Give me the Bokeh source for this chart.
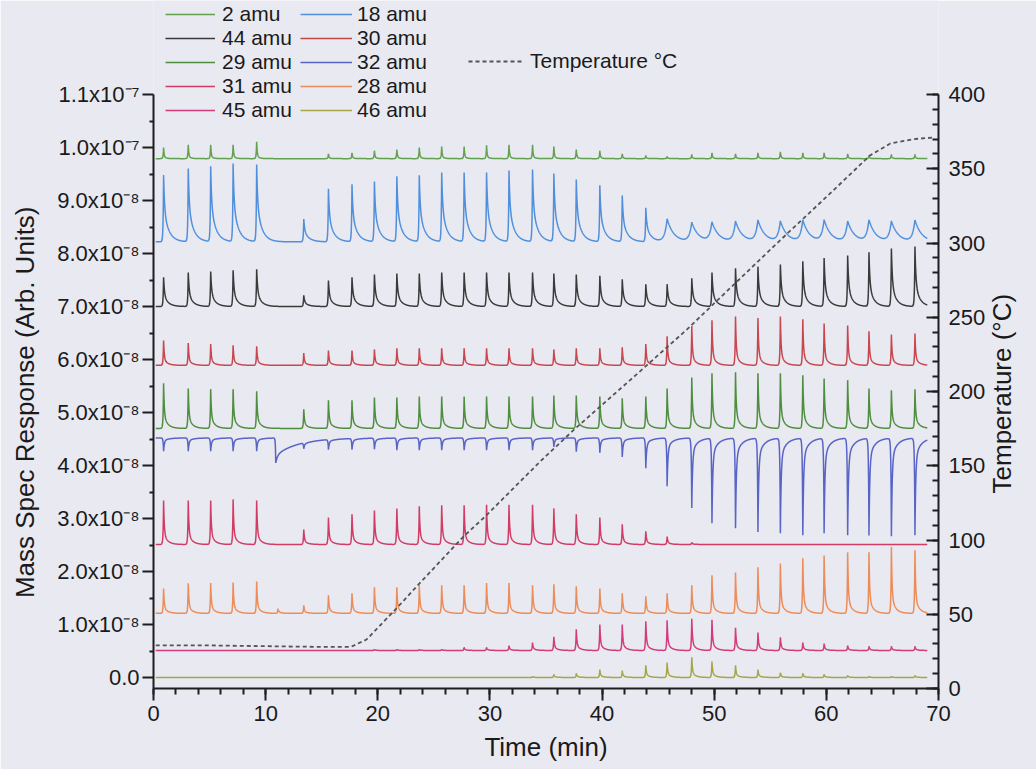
import math
import numpy as np
from bokeh.plotting import figure
from bokeh.models import Range1d, LinearAxis, FixedTicker, Legend, LegendItem
from bokeh.embed import file_html
from bokeh.resources import INLINE

# ---------------- data ----------------
# injection times (min)
INJ_T = [0.9, 3.1, 5.1, 7.1, 9.2, 13.4, 15.6, 17.7, 19.7, 21.7, 23.7, 25.7,
         27.7, 29.7, 31.7, 33.8, 35.7, 37.7, 39.8, 41.8, 43.9, 45.8, 48.0,
         49.8, 51.9, 53.9, 55.9, 57.9, 59.8, 61.9, 63.8, 65.8, 67.9]
T_START, T_END = 0.2, 69.0

# baselines and peak heights in units of 1e-8 (Arb. Units)
BASE_2 = 9.79
H_2 = [0.21, 0.26, 0.26, 0.26, 0.32, 0.0, 0.09, 0.11, 0.15, 0.17, 0.21, 0.23,
       0.23, 0.25, 0.26, 0.26, 0.23, 0.17, 0.15, 0.09, 0.06, 0.04, 0.08, 0.11,
       0.09, 0.11, 0.13, 0.11, 0.11, 0.09, 0.06, 0.08, 0.08]
BASE_18 = 8.22
H_18 = [1.26, 1.38, 1.42, 1.47, 1.45, 0.43, 1.00, 1.08, 1.13, 1.23, 1.25, 1.30,
        1.30, 1.30, 1.34, 1.36, 1.28, 1.17, 1.06, 0.87, 0.64, 0.43, 0.36, 0.36,
        0.38, 0.40, 0.38, 0.40, 0.40, 0.38, 0.40, 0.38, 0.40]
BASE_44 = 7.00
H_44 = [0.55, 0.64, 0.66, 0.68, 0.70, 0.21, 0.49, 0.55, 0.60, 0.62, 0.62, 0.64,
        0.64, 0.64, 0.64, 0.64, 0.62, 0.60, 0.58, 0.51, 0.42, 0.42, 0.53, 0.64,
        0.72, 0.75, 0.79, 0.85, 0.91, 0.96, 1.02, 1.09, 1.13]
BASE_30 = 5.89
H_30 = [0.47, 0.42, 0.40, 0.38, 0.36, 0.23, 0.28, 0.28, 0.30, 0.32, 0.32, 0.32,
        0.32, 0.32, 0.32, 0.32, 0.30, 0.32, 0.32, 0.34, 0.40, 0.55, 0.74, 0.85,
        0.92, 0.89, 0.92, 0.87, 0.79, 0.75, 0.64, 0.58, 0.60]
BASE_29 = 4.70
H_29 = [0.85, 0.75, 0.74, 0.74, 0.70, 0.36, 0.53, 0.53, 0.58, 0.58, 0.60, 0.60,
        0.60, 0.60, 0.60, 0.60, 0.62, 0.62, 0.60, 0.57, 0.60, 0.75, 0.96, 1.04,
        1.06, 1.04, 1.04, 1.00, 0.94, 0.91, 0.75, 0.72, 0.74]
BASE_32 = 4.52
H_32 = [-0.25, -0.25, -0.25, -0.25, -0.25, -0.11, -0.19, -0.21, -0.21, -0.23,
        -0.23, -0.23, -0.23, -0.23, -0.23, -0.23, -0.17, -0.26, -0.28, -0.36,
        -0.57, -0.91, -1.32, -1.60, -1.70, -1.77, -1.79, -1.83, -1.79, -1.83,
        -1.83, -1.85, -1.83]
DIP_32_T, DIP_32_H = 10.9, -0.47
BASE_31 = 2.51
H_31 = [0.83, 0.83, 0.83, 0.85, 0.83, 0.28, 0.51, 0.57, 0.64, 0.68, 0.72, 0.74,
        0.74, 0.75, 0.75, 0.75, 0.68, 0.57, 0.51, 0.38, 0.25, 0.15, 0.04, 0.0,
        0.0, 0.0, 0.0, 0.0, 0.0, 0.0, 0.0, 0.0, 0.0]
BASE_28 = 1.21
H_28 = [0.47, 0.57, 0.57, 0.58, 0.60, 0.15, 0.34, 0.38, 0.49, 0.49, 0.53, 0.53,
        0.53, 0.57, 0.57, 0.53, 0.55, 0.51, 0.47, 0.38, 0.32, 0.38, 0.53, 0.72,
        0.77, 0.87, 0.94, 1.04, 1.09, 1.15, 1.15, 1.25, 1.19]
BUMP_28_T, BUMP_28_H = 11.1, 0.09
BASE_45 = 0.51
H_45 = [0.0, 0.0, 0.0, 0.0, 0.0, 0.0, 0.0, 0.0, 0.02, 0.02, 0.02, 0.02,
        0.06, 0.06, 0.09, 0.15, 0.26, 0.40, 0.49, 0.49, 0.55, 0.57, 0.60, 0.58,
        0.43, 0.34, 0.25, 0.15, 0.13, 0.09, 0.08, 0.08, 0.08]
BASE_46 = 0.0
H_46 = [0.0, 0.0, 0.0, 0.0, 0.0, 0.0, 0.0, 0.0, 0.0, 0.0, 0.0, 0.0,
        0.0, 0.0, 0.0, 0.02, 0.06, 0.08, 0.15, 0.13, 0.23, 0.28, 0.38, 0.30,
        0.23, 0.15, 0.09, 0.08, 0.06, 0.04, 0.02, 0.02, 0.04]

# temperature programme (min, degC)
TEMP_T = [0.2, 5.0, 10.0, 15.0, 17.6, 19.0, 21.8, 23.5, 27.6, 29.6, 34.5,
          37.6, 43.0, 47.6, 55.9, 60.0, 63.9, 65.7, 67.8, 69.6]
TEMP_C = [29, 29, 28.5, 28, 28, 33, 55, 69, 102, 116, 153,
          175, 211, 242, 302, 331, 359, 367, 370, 371]

# tick labels
Y_TICKS = list(range(0, 12))
Y_LABELS = ["0.0", "1.0x10\u207b\u2078", "2.0x10\u207b\u2078", "3.0x10\u207b\u2078",
            "4.0x10\u207b\u2078", "5.0x10\u207b\u2078", "6.0x10\u207b\u2078",
            "7.0x10\u207b\u2078", "8.0x10\u207b\u2078", "9.0x10\u207b\u2078",
            "1.0x10\u207b\u2077", "1.1x10\u207b\u2077"]
X_TICKS = [0, 10, 20, 30, 40, 50, 60, 70]
T_TICKS = [0, 50, 100, 150, 200, 250, 300, 350, 400]

# ---------------- peak model ----------------
T = np.round(np.arange(T_START, T_END + 1e-9, 0.02), 2)


def peak(t0, h, rise, a, t1, t2):
    dt = T - t0
    out = np.where(dt < 0, np.exp(np.minimum(dt, 0) / rise),
                   a * np.exp(-np.maximum(dt, 0) / t1) + (1 - a) * np.exp(-np.maximum(dt, 0) / t2))
    return h * out


def trace(base, heights, rise=0.04, a=0.7, t1=0.07, t2=0.35, broad_after=None):
    y = np.full(T.shape, float(base))
    for t0, h in zip(INJ_T, heights):
        if h == 0:
            continue
        if broad_after is not None and t0 >= broad_after:
            y += peak(t0, h, 0.22, 0.0, 0.1, 0.6)
        else:
            y += peak(t0, h, rise, a, t1, t2)
    return y


y2 = trace(BASE_2, H_2, a=0.85, t1=0.05, t2=0.25)
y18 = trace(BASE_18, H_18, a=0.5, t1=0.08, t2=0.45, broad_after=45.0)
y44 = trace(BASE_44, H_44, a=0.6, t1=0.08, t2=0.4)
y30 = trace(BASE_30, H_30, a=0.75, t1=0.06, t2=0.35)
y29 = trace(BASE_29, H_29, a=0.7, t1=0.06, t2=0.35)
y32 = trace(BASE_32, H_32, a=0.8, t1=0.07, t2=0.5)
y32 = y32 + peak(DIP_32_T, DIP_32_H, 0.03, 0.3, 0.15, 2.0)
y31 = trace(BASE_31, H_31, a=0.75, t1=0.06, t2=0.35)
y28 = trace(BASE_28, H_28, a=0.75, t1=0.06, t2=0.35)
y28 = y28 + peak(BUMP_28_T, BUMP_28_H, 0.04, 0.7, 0.07, 0.35)
y45 = trace(BASE_45, H_45, a=0.75, t1=0.06, t2=0.35)
y46 = trace(BASE_46, H_46, a=0.75, t1=0.06, t2=0.35)

# ---------------- figure ----------------
BG = "#e9e9f1"
FONT = "Liberation Sans"
AX = "#1e1e1e"
NB = "\u00a0"

# frame spans the full height above the x axis so that the legend (which sits
# above the axes' top) is not clipped; axes are bounded to their data extent.
Y_LO, Y_HI_AXIS = -0.2075, 11.0
PX_PER_UNIT = 53.0          # left axis scale
TOP_GAP = 94.0              # px between canvas top and top of axes
Y_HI = Y_HI_AXIS + TOP_GAP / PX_PER_UNIT
T_HI_AXIS = 400.0
T_HI = T_HI_AXIS + TOP_GAP * T_HI_AXIS / (Y_HI_AXIS - Y_LO) / PX_PER_UNIT

p = figure(width=1036, height=769, output_backend="svg", toolbar_location=None,
           x_range=Range1d(0, 70), y_range=Range1d(Y_LO, Y_HI),
           min_border_left=153, min_border_right=98, min_border_top=0,
           min_border_bottom=81, background_fill_color=BG, border_fill_color=BG,
           outline_line_color=None)
p.extra_y_ranges = {"temp": Range1d(0, T_HI)}
p.grid.visible = False

series = [
    ("2 amu", y2, "#62a24e"), ("18 amu", y18, "#4f8fdc"),
    ("44 amu", y44, "#3a3a3a"), ("30 amu", y30, "#c8464e"),
    ("29 amu", y29, "#4e8e3e"), ("32 amu", y32, "#5865c6"),
    ("31 amu", y31, "#d23c64"), ("28 amu", y28, "#ec8c58"),
    ("45 amu", y45, "#d43a7e"), ("46 amu", y46, "#a6a648"),
]
rends = {}
for name, yy, col in series:
    rends[name] = p.line(T, yy, line_color=col, line_width=1.5)

r_temp = p.line(TEMP_T, TEMP_C, y_range_name="temp", line_color="#555555",
                line_width=1.8, line_dash="4 3")

# axes (labels padded with no-break spaces so they centre on the bounded axes)
xa = p.xaxis[0]
xa.ticker = FixedTicker(ticks=X_TICKS, minor_ticks=list(range(0, 71, 2)))
xa.axis_label = "Time (min)"
ya = p.yaxis[0]
ya.ticker = FixedTicker(ticks=Y_TICKS, minor_ticks=[i + 0.5 for i in range(11)])
ya.major_label_overrides = {k: v for k, v in zip(Y_TICKS, Y_LABELS)}
ya.axis_label = "Mass Spec Response (Arb. Units)" + NB * 16
ya.bounds = (Y_LO, Y_HI_AXIS)

ra = LinearAxis(y_range_name="temp",
                ticker=FixedTicker(ticks=T_TICKS, minor_ticks=list(range(0, 401, 10))),
                bounds=(0, T_HI_AXIS))
p.add_layout(ra, "right")

for ax in (xa, ya, ra):
    ax.axis_line_color = AX
    ax.axis_line_width = 2
    ax.major_tick_line_color = AX
    ax.major_tick_line_width = 2
    ax.minor_tick_line_color = AX
    ax.minor_tick_line_width = 2
    ax.major_label_text_font = FONT
    ax.major_label_text_font_size = "22px"
    ax.major_label_text_color = "#1a1a1a"
    ax.axis_label_text_font = FONT
    ax.axis_label_text_font_size = "26px"
    ax.axis_label_text_font_style = "normal"
    ax.axis_label_text_color = "#1a1a1a"

xa.major_tick_in, xa.major_tick_out = 0, 12
xa.minor_tick_in, xa.minor_tick_out = 0, 6
xa.major_label_standoff = 5
xa.axis_label_standoff = 8
ya.major_tick_in, ya.major_tick_out = 0, 11
ya.minor_tick_in, ya.minor_tick_out = 0, 4
ya.major_label_standoff = 3
ya.axis_label_standoff = 14
ra.major_tick_in, ra.major_tick_out = 12, 0
ra.minor_tick_in, ra.minor_tick_out = 6, 0
ra.major_label_standoff = 10
ra.axis_label_standoff = 14
ra.axis_label_orientation = math.pi / 2   # reads bottom-to-top, as in the reference
if "axis_label_align" in ra.properties():
    ra.axis_label_align = "start"
    ra.axis_label = NB * 27 + "Temperature (\u00b0C)"
else:
    ra.axis_label = "Temperature (\u00b0C)"


# legends
def make_legend(items, loc, glyph_w, standoff):
    lg = Legend(items=[LegendItem(label=n, renderers=[r]) for n, r in items],
                location=loc, orientation="vertical", glyph_width=glyph_w,
                glyph_height=22, label_height=22, label_standoff=standoff,
                spacing=0, padding=0, margin=0, border_line_color=None,
                background_fill_alpha=0, label_text_font=FONT,
                label_text_font_size="21px", label_text_color="#1a1a1a")
    p.add_layout(lg, "center")


make_legend([(n, rends[n]) for n in ["2 amu", "44 amu", "29 amu", "31 amu", "45 amu"]],
            (12, 566), 50, 7)
make_legend([(n, rends[n]) for n in ["18 amu", "30 amu", "32 amu", "28 amu", "46 amu"]],
            (147, 566), 52, 5)
make_legend([("Temperature \u00b0C", r_temp)], (315, 615), 54, 8)

open("out.html", "w").write(file_html(p, INLINE))
